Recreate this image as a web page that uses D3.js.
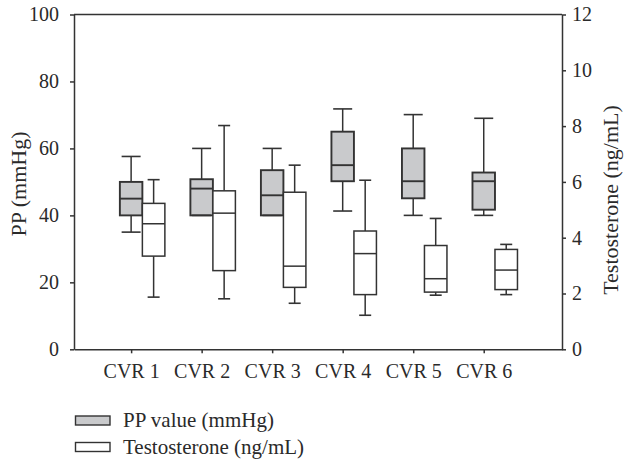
<!DOCTYPE html>
<html>
<head>
<meta charset="utf-8">
<script src="https://cdn.jsdelivr.net/npm/d3@7"></script>
<style>
  html, body { margin: 0; padding: 0; background: #fff; }
  svg text { font-family: "Liberation Serif", "DejaVu Serif", serif; fill: #2a2a2a; }
</style>
</head>
<body>
<svg id="chart" width="624" height="463"></svg>
<script>
// ---- data ----
const categories = ["CVR 1", "CVR 2", "CVR 3", "CVR 4", "CVR 5", "CVR 6"];

// PP value (mmHg) — left axis
const ppMin = [35, 40, 40, 41.3, 40, 40];
const ppQ1  = [40, 40, 40, 50.2, 45.1, 41.7];
const ppMed = [45, 48, 46, 55, 50.2, 50.2];
const ppQ3  = [50, 50.8, 53.5, 65, 60, 52.8];
const ppMax = [57.6, 60, 60, 71.8, 70.1, 69];

// Testosterone (ng/mL) — right axis
const tMin = [1.87, 1.81, 1.65, 1.22, 1.94, 1.96];
const tQ1  = [3.34, 2.82, 2.22, 1.96, 2.05, 2.14];
const tMed = [4.50, 4.88, 2.98, 3.43, 2.53, 2.84];
const tQ3  = [5.23, 5.68, 5.63, 4.24, 3.72, 3.58];
const tMax = [6.08, 8.02, 6.60, 6.06, 4.69, 3.76];

const leftTicks = [0, 20, 40, 60, 80, 100];
const rightTicks = [0, 2, 4, 6, 8, 10, 12];
const legendLabels = ["PP value (mmHg)", "Testosterone (ng/mL)"];
const leftTitle = "PP (mmHg)";
const rightTitle = "Testosterone (ng/mL)";

// ---- layout ----
const plot = { left: 74, right: 562, top: 14.5, bottom: 349.3 };
const svg = d3.select("#chart");
const ink = "#333";

const idx = categories.map((c, i) => i + 1);
const x = d3.scaleLinear().domain([0.19, 7.11]).range([plot.left, plot.right]);
const yL = d3.scaleLinear().domain([0, 100]).range([plot.bottom, plot.top]);
const yR = d3.scaleLinear().domain([0, 12]).range([plot.bottom, plot.top]);

const boxW = 22.5;

// ---- axes ----
const fontSize = 20;
function styleAxis(g) {
  g.selectAll("path, line").attr("stroke", ink).attr("stroke-width", 1.5);
  g.selectAll("text").attr("font-size", fontSize).attr("fill", "#2a2a2a")
    .attr("font-family", '"Liberation Serif", serif');
}

svg.append("g")
  .attr("transform", `translate(${plot.left},0)`)
  .call(d3.axisLeft(yL).tickValues(leftTicks).tickSize(4).tickSizeOuter(0).tickPadding(11))
  .call(styleAxis);

svg.append("g")
  .attr("transform", `translate(${plot.right},0)`)
  .call(d3.axisRight(yR).tickValues(rightTicks).tickSize(4).tickSizeOuter(0).tickPadding(6))
  .call(styleAxis);

svg.append("g")
  .attr("transform", `translate(0,${plot.bottom})`)
  .call(d3.axisBottom(x).tickValues(idx).tickFormat((d, i) => categories[i])
        .tickSize(4).tickSizeOuter(0).tickPadding(11))
  .call(styleAxis);

// top frame line
svg.append("line")
  .attr("x1", plot.left).attr("x2", plot.right)
  .attr("y1", plot.top).attr("y2", plot.top)
  .attr("stroke", ink).attr("stroke-width", 1.5);

// ---- boxes ----
function drawBoxes(cls, mins, q1s, meds, q3s, maxs, yScale, offset, fill, capW, sw) {
  const g = svg.append("g").attr("class", cls);
  categories.forEach((c, i) => {
    const cx = x(idx[i]) + offset;
    const gg = g.append("g");
    gg.append("line").attr("x1", cx).attr("x2", cx)
      .attr("y1", yScale(maxs[i])).attr("y2", yScale(q3s[i]))
      .attr("stroke", ink).attr("stroke-width", 1.5);
    gg.append("line").attr("x1", cx).attr("x2", cx)
      .attr("y1", yScale(q1s[i])).attr("y2", yScale(mins[i]))
      .attr("stroke", ink).attr("stroke-width", 1.5);
    gg.append("rect")
      .attr("x", cx - boxW / 2).attr("width", boxW)
      .attr("y", yScale(q3s[i])).attr("height", yScale(q1s[i]) - yScale(q3s[i]))
      .attr("fill", fill).attr("stroke", ink).attr("stroke-width", sw);
    gg.append("line").attr("x1", cx - boxW / 2).attr("x2", cx + boxW / 2)
      .attr("y1", yScale(meds[i])).attr("y2", yScale(meds[i]))
      .attr("stroke", ink).attr("stroke-width", sw);
    [maxs[i], mins[i]].forEach(v => {
      gg.append("line").attr("x1", cx - capW / 2).attr("x2", cx + capW / 2)
        .attr("y1", yScale(v)).attr("y2", yScale(v))
        .attr("stroke", ink).attr("stroke-width", 1.6);
    });
  });
}

drawBoxes("pp", ppMin, ppQ1, ppMed, ppQ3, ppMax, yL, 0, "#c9cacc", 19, 1.9);
drawBoxes("testo", tMin, tQ1, tMed, tQ3, tMax, yR, boxW, "#ffffff", 12, 1.5);

// ---- axis titles ----
svg.append("text")
  .attr("transform", `translate(18,184) rotate(-90)`)
  .attr("text-anchor", "middle").attr("dy", "0.35em")
  .attr("font-size", 22)
  .text(leftTitle);

svg.append("text")
  .attr("transform", `translate(610,200) rotate(-90)`)
  .attr("text-anchor", "middle").attr("dy", "0.35em")
  .attr("font-size", 22)
  .text(rightTitle);

// ---- legend ----
const legendFills = ["#c9cacc", "#ffffff"];
const leg = svg.append("g");
legendLabels.forEach((lab, i) => {
  const yy = 416 + i * 26.5;
  leg.append("rect").attr("x", 75.5).attr("y", yy).attr("width", 34.5).attr("height", 9)
    .attr("fill", legendFills[i]).attr("stroke", ink).attr("stroke-width", 1.4);
  leg.append("text").attr("x", 123).attr("y", yy + 11)
    .attr("font-size", 21).text(lab);
});
</script>
</body>
</html>
